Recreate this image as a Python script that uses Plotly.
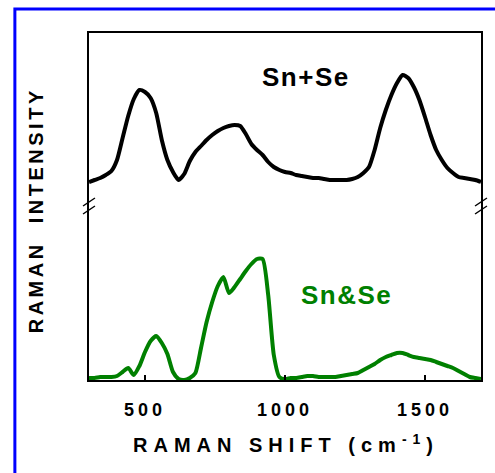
import plotly.graph_objects as go

# Raman shift grid (cm^-1)
wavenumber = list(range(300, 1701, 20))

# Sn+Se spectrum (arbitrary units), stacked above the Sn&Se trace
sn_plus_se = [8, 10, 12, 15, 19, 30, 52, 74, 91, 100, 98, 92, 77, 50, 30, 18,
              10, 16, 29, 38, 44, 50, 55, 59, 62, 64, 65, 64, 56, 46, 40, 35,
              28, 23, 20, 18, 17, 15, 14, 13, 12, 12, 11, 10, 10, 10, 10, 11,
              13, 17, 23, 40, 62, 80, 95, 107, 115, 112, 103, 90, 73, 55, 40,
              30, 22, 17, 13, 12, 11, 10, 8]
sn_plus_se_offset = 190

# Sn&Se spectrum (arbitrary units)
sn_and_se = [2, 2, 3, 3, 3, 4, 8, 12, 5, 14, 28, 39, 44, 37, 26, 8,
             1, 0, 2, 7, 32, 58, 78, 94, 103, 87, 93, 101, 109, 116, 121, 121,
             85, 25, 3, 1, 2, 2, 3, 4, 4, 3, 3, 3, 3, 4, 5, 6,
             7, 10, 13, 16, 20, 23, 25, 27, 27, 25, 23, 22, 21, 20, 18,
             16, 14, 12, 9, 6, 3, 2, 1]

x_ticks = [500, 1000, 1500]
x_tick_text = ["500", "1000", "1500"]

FONT = "Liberation Sans, Arial, sans-serif"
GREEN = "#008000"
W, H = 495, 473
L, R, T, B = 89, 12, 33, 93
PW, PH = W - L - R, H - T - B


def spaced(text, px):
    return f'<span style="letter-spacing:{px}px">{text}</span>'


fig = go.Figure()
fig.add_trace(go.Scatter(
    x=wavenumber, y=[v + sn_plus_se_offset for v in sn_plus_se],
    mode="lines", line=dict(color="black", width=4, shape="spline", smoothing=0.6),
    showlegend=False, hoverinfo="skip"))
fig.add_trace(go.Scatter(
    x=wavenumber, y=sn_and_se,
    mode="lines", line=dict(color=GREEN, width=4, shape="spline", smoothing=0.6),
    showlegend=False, hoverinfo="skip"))

fig.update_xaxes(
    range=[300, 1700], showline=True, mirror=True, linecolor="black", linewidth=2,
    ticks="inside", ticklen=5, tickwidth=2, tickcolor="black",
    tickvals=x_ticks, ticktext=[spaced(t, 4) for t in x_tick_text],
    ticklabelstandoff=12,
    tickfont=dict(family=FONT, size=18, color="black", weight="bold"),
    showgrid=False, zeroline=False)
fig.update_yaxes(
    range=[0, PH], showline=True, mirror=True, linecolor="black", linewidth=2,
    ticks="", showticklabels=False, showgrid=False, zeroline=False)

annotations = [
    dict(x=1075, y=303, xref="x", yref="y", text=spaced("Sn+Se", 1.5), showarrow=False,
         xanchor="center", yanchor="middle",
         font=dict(family=FONT, size=26, color="black", weight="bold")),
    dict(x=1221, y=85, xref="x", yref="y", text=spaced("Sn&amp;Se", 1.5), showarrow=False,
         xanchor="center", yanchor="middle",
         font=dict(family=FONT, size=26, color=GREEN, weight="bold")),
    dict(x=(287 - L) / PW, y=(380 - 444) / PH, xref="paper", yref="paper",
         text=spaced("RAMAN SHIFT (cm<sup>-1</sup>)", 6), showarrow=False,
         xanchor="center", yanchor="middle",
         font=dict(family=FONT, size=20, color="black", weight="bold")),
    dict(x=(36 - L) / PW, y=(380 - 210) / PH, xref="paper", yref="paper",
         text=spaced("RAMAN\u00a0\u00a0INTENSITY", 3.5), textangle=-90, showarrow=False,
         xanchor="center", yanchor="middle",
         font=dict(family=FONT, size=20, color="black", weight="bold")),
]

shapes = []
# outer blue frame
shapes.append(dict(type="rect", xref="paper", yref="paper",
                   x0=(14.5 - L) / PW, x1=(W + 30 - L) / PW,
                   y0=(380 - H - 30) / PH, y1=(380 - 9) / PH,
                   line=dict(color="#0000FF", width=3), fillcolor="rgba(0,0,0,0)"))
# axis break marks on both vertical axes
for ax_px in (L, L + PW):
    for cy in (202, 210):
        shapes.append(dict(type="line", xref="paper", yref="paper",
                           x0=(ax_px - 6 - L) / PW, x1=(ax_px + 6 - L) / PW,
                           y0=(380 - (cy + 4)) / PH, y1=(380 - (cy - 4)) / PH,
                           line=dict(color="black", width=1.5)))

fig.update_layout(
    width=W, height=H, margin=dict(l=L, r=R, t=T, b=B),
    paper_bgcolor="white", plot_bgcolor="white",
    annotations=annotations, shapes=shapes)

fig.write_html("out.html")
